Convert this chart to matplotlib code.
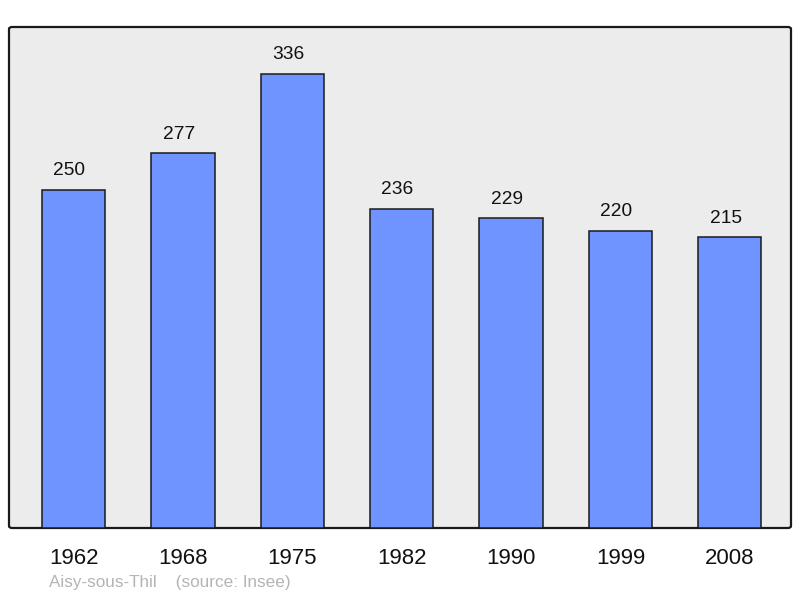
import matplotlib
matplotlib.use("Agg")
from matplotlib import pyplot as plt
from matplotlib.patches import FancyBboxPatch

years = ["1962", "1968", "1975", "1982", "1990", "1999", "2008"]
population = [250, 277, 336, 236, 229, 220, 215]

plt.rcParams["font.family"] = ["Liberation Sans", "DejaVu Sans"]

fig = plt.figure(figsize=(8, 5.98), dpi=100)
ax = fig.add_axes([9 / 800, 1 - 528 / 598, 782 / 800, 501 / 598])
ax.set_facecolor("none")

# rounded background frame
frame = FancyBboxPatch(
    (0, 0), 1, 1, boxstyle="round,pad=0,rounding_size=0.004",
    transform=ax.transAxes, facecolor="#ececec", edgecolor="#1a1a1a",
    linewidth=1.6, zorder=0, clip_on=False,
)
ax.add_patch(frame)

x = range(len(years))
bars = ax.bar(x, population, width=0.58, color="#7094ff", edgecolor="#1a1a1a",
              linewidth=1.1, zorder=2)
for xi, v in zip(x, population):
    ax.annotate(str(v), (xi, v), xytext=(-3, 10.5), textcoords="offset points",
                ha="center", va="baseline", fontsize=13.8, color="#111111")

ax.set_xlim(-0.59, 6.56)
ax.set_ylim(0, 370.5)
for s in ax.spines.values():
    s.set_visible(False)
ax.set_yticks([])
ax.set_xticks(list(x))
ax.set_xticklabels(years, fontsize=16, color="#111111")
ax.tick_params(axis="x", length=0, pad=14.5)

fig.text(49 / 800, 1 - 583 / 598, "Aisy-sous-Thil    (source: Insee)",
         fontsize=12.3, color="#b4b4b4", va="center", ha="left")

fig.savefig("out.png", dpi=100)
